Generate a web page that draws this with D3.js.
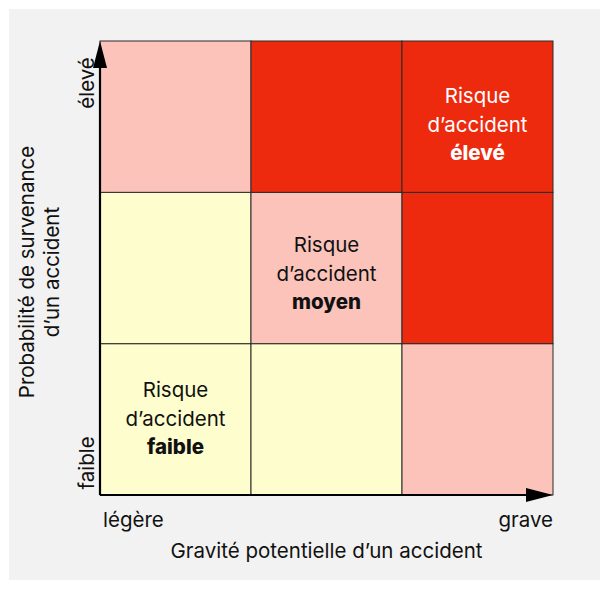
<!DOCTYPE html>
<html><head><meta charset="utf-8">
<script src="https://cdn.jsdelivr.net/npm/d3@7"></script>
<style>
html,body{margin:0;padding:0;background:#fff;}
svg text{font-family:"Inter","Noto Sans",sans-serif;}
</style></head>
<body><svg id="c" width="608" height="589"></svg>
<script>
// Data
const gravity = ["légère", "moyenne", "grave"];          // x categories
const probability = ["faible", "moyenne", "élevé"];       // y categories
const riskLevels = ["faible", "moyen", "élevé"];
// risk level index per cell: rows = probability (faible..élevé), cols = gravity
const riskMatrix = [
  [0, 0, 1],   // probabilité faible
  [0, 1, 2],   // probabilité moyenne
  [1, 2, 2]    // probabilité élevée
];
const riskColors = ["#fefdcd", "#fcc3bb", "#ee2a0e"];
const cellLabels = [
  {g: 0, p: 0, level: 0},
  {g: 1, p: 1, level: 1},
  {g: 2, p: 2, level: 2}
];
const xTickLabels = ["légère", "grave"];
const yTickLabels = ["faible", "élevé"];
const xTitle = "Gravité potentielle d’un accident";
const yTitle = ["Probabilité de survenance", "d’un accident"];

const svg = d3.select("#c");
svg.append("rect").attr("x", 9).attr("y", 9).attr("width", 591).attr("height", 571).attr("fill", "#f2f2f2");

const x = d3.scaleBand().domain(d3.range(gravity.length)).range([100, 553]);
const y = d3.scaleBand().domain(d3.range(probability.length)).range([495, 41]);

const cells = [];
riskMatrix.forEach((row, p) => row.forEach((r, g) => cells.push({g, p, r})));

svg.append("g").selectAll("rect").data(cells).join("rect")
  .attr("x", d => x(d.g)).attr("y", d => y(d.p))
  .attr("width", x.bandwidth()).attr("height", y.bandwidth())
  .attr("fill", d => riskColors[d.r])
  .attr("stroke", "#2a2a2a").attr("stroke-width", 1);

// cell labels
const fs = 20.5;
const labelShift = [7, 13, 15];
const lab = svg.append("g").selectAll("text").data(cellLabels).join("text")
  .attr("text-anchor", "middle")
  .attr("font-size", fs)
  .attr("fill", d => d.level === 2 ? "#fff" : "#111")
  .attr("transform", d => `translate(${x(d.g) + x.bandwidth()/2},${y(d.p) + y.bandwidth()/2 + labelShift[d.level]})`);
lab.append("tspan").attr("x", 0).attr("y", -29).text("Risque");
lab.append("tspan").attr("x", 0).attr("y", 0).text("d’accident");
lab.append("tspan").attr("x", 0).attr("y", 28).attr("font-weight", 800).text(d => riskLevels[d.level]);

// axes with arrows
const [x0, x1] = x.range();
const [y0, y1] = y.range();
svg.append("line").attr("x1", x0).attr("y1", y0).attr("x2", x1 - 20).attr("y2", y0)
  .attr("stroke", "#000").attr("stroke-width", 2.2);
svg.append("line").attr("x1", x0).attr("y1", y0).attr("x2", x0).attr("y2", y1 + 20)
  .attr("stroke", "#000").attr("stroke-width", 2.2);
svg.append("path").attr("d", `M${x1},${y0} L${x1-27},${y0-7} L${x1-27},${y0+7} Z`).attr("fill", "#000");
svg.append("path").attr("d", `M${x0},${y1} L${x0-7},${y1+27} L${x0+7},${y1+27} Z`).attr("fill", "#000");

// tick labels
svg.append("text").attr("x", x0 + 3).attr("y", 527).attr("font-size", fs).attr("fill", "#111").text(xTickLabels[0]);
svg.append("text").attr("x", x1).attr("y", 527).attr("text-anchor", "end").attr("font-size", fs).attr("fill", "#111").text(xTickLabels[1]);
svg.append("text").attr("transform", `translate(94,${y(0) + y.bandwidth() - 32}) rotate(-90)`).attr("text-anchor", "middle")
  .attr("font-size", fs).attr("fill", "#111").text(yTickLabels[0]);
svg.append("text").attr("transform", `translate(94,${y(2) + 42}) rotate(-90)`).attr("text-anchor", "middle")
  .attr("font-size", fs).attr("fill", "#111").text(yTickLabels[1]);

// titles
svg.append("text").attr("x", (x0 + x1)/2).attr("y", 558).attr("text-anchor", "middle")
  .attr("font-size", fs).attr("fill", "#111").text(xTitle);
const yt = svg.append("text").attr("transform", `translate(0,${(y0 + y1)/2 + 4}) rotate(-90)`).attr("text-anchor", "middle")
  .attr("font-size", fs).attr("fill", "#111");
yt.append("tspan").attr("x", 0).attr("y", 34).text(yTitle[0]);
yt.append("tspan").attr("x", 0).attr("y", 59).text(yTitle[1]);
</script></body></html>
